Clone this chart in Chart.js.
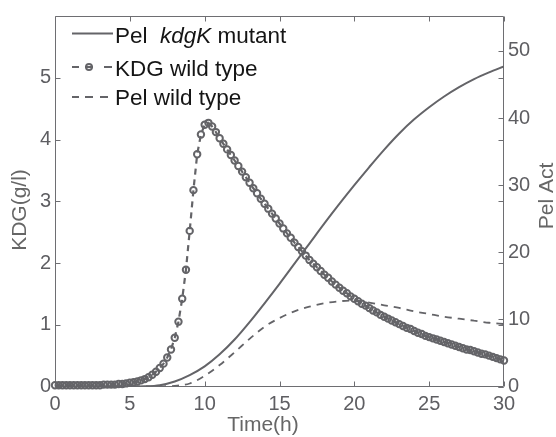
<!DOCTYPE html>
<html>
<head>
<meta charset="utf-8">
<script src="https://cdn.jsdelivr.net/npm/chart.js@4/dist/chart.umd.min.js"></script>
<style>
  html, body { margin: 0; padding: 0; background: #fff; }
  canvas { display: block; }
</style>
</head>
<body>
<canvas id="chart" width="556" height="437"></canvas>
<script>
// Sampling times (h) of the KDG measurements, wild type
const kdgTime = [
  0, 0.25, 0.5, 0.75, 1, 1.25, 1.5, 1.75, 2, 2.25, 2.5, 2.75, 3, 3.25, 3.5, 3.75, 4, 4.25, 4.5, 4.75,
  5, 5.25, 5.5, 5.75, 6, 6.25, 6.5, 6.75, 7, 7.25, 7.5, 7.75, 8, 8.25, 8.5, 8.75, 9, 9.25, 9.5, 9.75,
  10, 10.25, 10.5, 10.75, 11, 11.25, 11.5, 11.75, 12, 12.25, 12.5, 12.75, 13, 13.25, 13.5, 13.75, 14, 14.25, 14.5, 14.75,
  15, 15.25, 15.5, 15.75, 16, 16.25, 16.5, 16.75, 17, 17.25, 17.5, 17.75, 18, 18.25, 18.5, 18.75, 19, 19.25, 19.5, 19.75,
  20, 20.25, 20.5, 20.75, 21, 21.25, 21.5, 21.75, 22, 22.25, 22.5, 22.75, 23, 23.25, 23.5, 23.75, 24, 24.25, 24.5, 24.75,
  25, 25.25, 25.5, 25.75, 26, 26.25, 26.5, 26.75, 27, 27.25, 27.5, 27.75, 28, 28.25, 28.5, 28.75, 29, 29.25, 29.5, 29.75,
  30
];
// KDG concentration (g/l), wild type
const kdgWildType = [
  0.02, 0.02, 0.02, 0.02, 0.02, 0.02, 0.02, 0.02, 0.02, 0.02, 0.02, 0.02, 0.02, 0.03, 0.03, 0.03, 0.03, 0.04, 0.04, 0.05,
  0.06, 0.07, 0.08, 0.10, 0.12, 0.15, 0.19, 0.24, 0.30, 0.37, 0.47, 0.60, 0.79, 1.05, 1.42, 1.89, 2.52, 3.18, 3.76, 4.08,
  4.24, 4.27, 4.21, 4.12, 4.02, 3.93, 3.84, 3.75, 3.66, 3.57, 3.48, 3.39, 3.30, 3.21, 3.13, 3.04, 2.96, 2.88, 2.80, 2.72,
  2.64, 2.56, 2.48, 2.41, 2.33, 2.26, 2.19, 2.12, 2.05, 1.99, 1.93, 1.87, 1.81, 1.76, 1.70, 1.65, 1.60, 1.55, 1.51, 1.46,
  1.42, 1.38, 1.34, 1.31, 1.27, 1.23, 1.20, 1.16, 1.13, 1.10, 1.07, 1.04, 1.01, 0.98, 0.95, 0.93, 0.90, 0.87, 0.85, 0.82,
  0.80, 0.78, 0.76, 0.74, 0.72, 0.70, 0.68, 0.66, 0.64, 0.62, 0.60, 0.59, 0.57, 0.55, 0.53, 0.52, 0.50, 0.48, 0.46, 0.44,
  0.42
];

// Hourly times (h) for the pectate lyase activity curves
const pelTime = [
  0, 1, 2, 3, 4, 5, 6, 7, 8, 9, 10, 11, 12, 13, 14, 15,
  16, 17, 18, 19, 20, 21, 22, 23, 24, 25, 26, 27, 28, 29, 30
];
// Pel activity, kdgK mutant
const pelKdgKMutant = [
  0, 0, 0, 0, 0, 0, 0.03, 0.2, 0.75, 1.7, 3.0, 4.8, 7.0, 9.6, 12.4, 15.3,
  18.3, 21.3, 24.3, 27.2, 30.0, 32.7, 35.3, 37.7, 39.8, 41.6, 43.2, 44.6, 45.8, 46.8, 47.7
];
// Pel activity, wild type
const pelWildType = [
  0, 0, 0, 0, 0, 0, 0, 0.02, 0.1, 0.45, 1.6, 3.2, 5.1, 7.1, 8.9, 10.2,
  11.2, 11.9, 12.4, 12.7, 12.8, 12.5, 12.1, 11.7, 11.2, 10.8, 10.4, 10.1, 9.8, 9.5, 9.3
];

// Tick positions on each axis
const timeTicks = [0, 5, 10, 15, 20, 25, 30];
const kdgTicks = [0, 1, 2, 3, 4, 5];
const pelTicks = [0, 10, 20, 30, 40, 50];

const GREY = '#646468';
const AXIS = '#6e6e72';
const FONT = '"Liberation Sans", Arial, Helvetica, sans-serif';

const toXY = (xs, ys) => xs.map((x, i) => ({ x: x, y: ys[i] }));

// Box, inward tick marks, axis titles and legend
const decorations = {
  id: 'decorations',
  beforeDatasetsDraw(chart) {
    const { ctx, chartArea: a, scales } = chart;
    const L = Math.round(a.left) + 0.5, R = Math.round(a.right) - 0.5;
    const T = Math.round(a.top) + 0.5, B = Math.round(a.bottom) - 0.5;
    const len = 5;
    ctx.save();
    ctx.strokeStyle = AXIS;
    ctx.lineWidth = 1;
    ctx.beginPath();
    ctx.rect(L, T, R - L, B - T);
    timeTicks.forEach(v => {
      const px = Math.round(scales.x.getPixelForValue(v)) + 0.5;
      ctx.moveTo(px, B); ctx.lineTo(px, B - len);
      ctx.moveTo(px, T); ctx.lineTo(px, T + len);
    });
    kdgTicks.forEach(v => {
      const py = Math.round(scales.y.getPixelForValue(v)) + 0.5;
      ctx.moveTo(L, py); ctx.lineTo(L + len, py);
      ctx.moveTo(R, py); ctx.lineTo(R - len, py);
    });
    pelTicks.forEach(v => {
      const py = Math.round(scales.y1.getPixelForValue(v)) + 0.5;
      ctx.moveTo(R, py); ctx.lineTo(R - len, py);
    });
    ctx.stroke();
    ctx.restore();
  },
  afterDraw(chart) {
    const { ctx } = chart;
    ctx.save();

    // Axis titles
    ctx.fillStyle = '#666';
    ctx.font = '21px ' + FONT;
    ctx.textAlign = 'center';
    ctx.textBaseline = 'middle';
    ctx.fillText('Time(h)', 263, 425);
    ctx.save();
    ctx.translate(20, 210);
    ctx.rotate(-Math.PI / 2);
    ctx.fillText('KDG(g/l)', 0, 0);
    ctx.restore();
    ctx.save();
    ctx.translate(547, 196);
    ctx.rotate(-Math.PI / 2);
    ctx.fillText('Pel Act', 0, 0);
    ctx.restore();

    // Legend
    ctx.strokeStyle = GREY;
    ctx.lineCap = 'butt';
    ctx.lineWidth = 2;
    ctx.beginPath();
    ctx.moveTo(72, 33.5); ctx.lineTo(113, 33.5);
    ctx.stroke();

    ctx.lineWidth = 2.2;
    ctx.beginPath();
    ctx.moveTo(72, 67); ctx.lineTo(79, 67);
    ctx.moveTo(85, 67); ctx.lineTo(93, 67);
    ctx.moveTo(104, 67); ctx.lineTo(112, 67);
    ctx.stroke();
    ctx.beginPath();
    ctx.arc(89, 67, 3, 0, Math.PI * 2);
    ctx.lineWidth = 2;
    ctx.stroke();

    ctx.lineWidth = 1.8;
    ctx.beginPath();
    [[72, 79], [85, 93], [100, 108]].forEach(([a, b]) => {
      ctx.moveTo(a, 97); ctx.lineTo(b, 97);
    });
    ctx.stroke();

    ctx.fillStyle = '#151515';
    ctx.textAlign = 'left';
    ctx.textBaseline = 'alphabetic';
    const legendFont = '22.5px ' + FONT;
    const legendItalic = 'italic 22.5px ' + FONT;
    let x = 115;
    ctx.font = legendFont;
    ctx.fillText('Pel  ', x, 42.5);
    x += ctx.measureText('Pel  ').width;
    ctx.font = legendItalic;
    ctx.fillText('kdgK', x, 42.5);
    x += ctx.measureText('kdgK').width;
    ctx.font = legendFont;
    ctx.fillText(' mutant', x, 42.5);
    ctx.fillText('KDG wild type', 115, 76);
    ctx.fillText('Pel wild type', 115, 105);

    ctx.restore();
  }
};

new Chart(document.getElementById('chart'), {
  type: 'line',
  data: {
    datasets: [
      {
        label: 'Pel kdgK mutant',
        data: toXY(pelTime, pelKdgKMutant),
        yAxisID: 'y1',
        borderColor: GREY,
        borderWidth: 2,
        pointRadius: 0,
        cubicInterpolationMode: 'monotone',
        order: 1
      },
      {
        label: 'KDG wild type',
        data: toXY(kdgTime, kdgWildType),
        yAxisID: 'y',
        borderColor: GREY,
        borderWidth: 2.2,
        borderDash: [6, 5],
        pointRadius: 3.2,
        pointBorderWidth: 2,
        pointBorderColor: GREY,
        pointBackgroundColor: 'rgba(0,0,0,0)',
        tension: 0,
        clip: false,
        order: 2
      },
      {
        label: 'Pel wild type',
        data: toXY(pelTime, pelWildType),
        yAxisID: 'y1',
        borderColor: GREY,
        borderWidth: 1.8,
        borderDash: [7, 6],
        pointRadius: 0,
        cubicInterpolationMode: 'monotone',
        order: 3
      }
    ]
  },
  options: {
    responsive: false,
    animation: false,
    devicePixelRatio: 1,
    layout: { padding: { top: 13, left: 0, right: 0, bottom: 0 } },
    plugins: {
      legend: { display: false },
      tooltip: { enabled: false }
    },
    scales: {
      x: {
        type: 'linear',
        position: 'bottom',
        min: 0,
        max: 30,
        afterBuildTicks: s => { s.ticks = timeTicks.map(v => ({ value: v })); },
        ticks: { color: '#5e5e62', font: { family: FONT, size: 20 }, padding: 6, maxRotation: 0 },
        grid: { display: false, drawTicks: false },
        border: { display: false },
        afterFit: s => { s.height = 50.5; }
      },
      y: {
        type: 'linear',
        position: 'left',
        min: 0,
        max: 6,
        afterBuildTicks: s => { s.ticks = kdgTicks.map(v => ({ value: v })); },
        ticks: { color: '#5e5e62', font: { family: FONT, size: 20 }, padding: 4 },
        grid: { display: false, drawTicks: false },
        border: { display: false },
        afterFit: s => { s.width = 55; }
      },
      y1: {
        type: 'linear',
        position: 'right',
        min: 0,
        max: 55.2,
        afterBuildTicks: s => { s.ticks = pelTicks.map(v => ({ value: v })); },
        ticks: { color: '#5e5e62', font: { family: FONT, size: 20 }, padding: 4 },
        grid: { display: false, drawTicks: false },
        border: { display: false },
        afterFit: s => { s.width = 52; }
      }
    }
  },
  plugins: [decorations]
});
</script>
</body>
</html>
